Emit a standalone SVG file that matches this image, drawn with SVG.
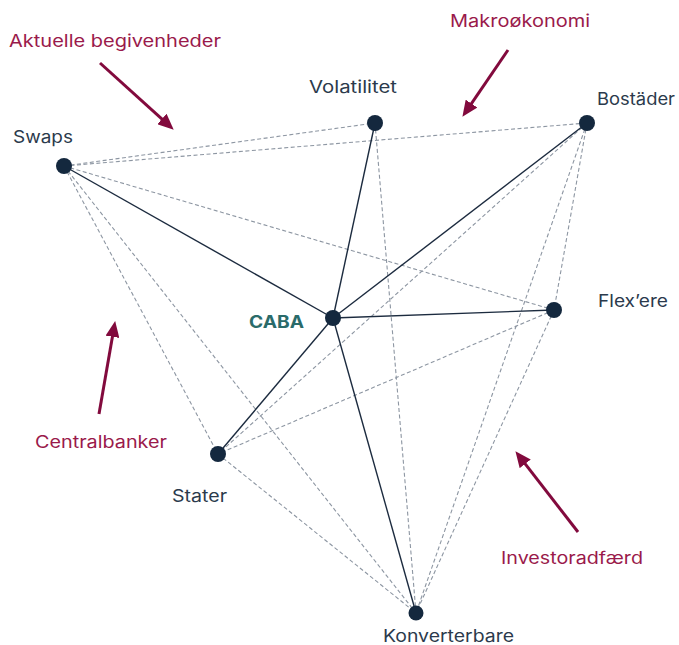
<svg xmlns="http://www.w3.org/2000/svg" width="679" height="645" viewBox="0 0 679 645">
<style>
.lbl{font-family:Inter,"Open Sans","Liberation Sans",sans-serif;font-size:17px;fill:#2b3a4c}
.drv{font-family:Inter,"Open Sans","Liberation Sans",sans-serif;font-size:17px;fill:#9a1a4b}
.caba{font-family:Inter,"Open Sans","Liberation Sans",sans-serif;font-size:17px;font-weight:bold;fill:#2a6b6a}
.solid{stroke:#1c2b3f;stroke-width:1.4;fill:none}
.dash{stroke:#8d96a2;stroke-width:1.1;stroke-dasharray:4 2.5;fill:none}
.arr{stroke:#820a3d;stroke-width:3;fill:none;marker-end:url(#ah)}
.node{fill:#14283e}
</style>
<defs>
<marker id="ah" viewBox="0 0 16 14" refX="1" refY="7" markerWidth="16" markerHeight="14" markerUnits="userSpaceOnUse" orient="auto">
<path d="M0,0 L16,7 L0,14 z" fill="#820a3d"/>
</marker>
</defs>
<rect width="679" height="645" fill="#ffffff"/>
<g id="connectors">
<line class="dash" x1="64" y1="166" x2="375" y2="123"/>
<line class="dash" x1="64" y1="166" x2="587" y2="123"/>
<line class="dash" x1="64" y1="166" x2="554" y2="310"/>
<line class="dash" x1="64" y1="166" x2="218" y2="454"/>
<line class="dash" x1="64" y1="166" x2="416" y2="613"/>
<line class="dash" x1="375" y1="123" x2="416" y2="613"/>
<line class="dash" x1="587" y1="123" x2="218" y2="454"/>
<line class="dash" x1="587" y1="123" x2="554" y2="310"/>
<line class="dash" x1="587" y1="123" x2="416" y2="613"/>
<line class="dash" x1="554" y1="310" x2="218" y2="454"/>
<line class="dash" x1="554" y1="310" x2="416" y2="613"/>
<line class="dash" x1="218" y1="454" x2="416" y2="613"/>
<line class="solid" x1="333" y1="318" x2="64" y2="166"/>
<line class="solid" x1="333" y1="318" x2="375" y2="123"/>
<line class="solid" x1="333" y1="318" x2="587" y2="123"/>
<line class="solid" x1="333" y1="318" x2="554" y2="310"/>
<line class="solid" x1="333" y1="318" x2="218" y2="454"/>
<line class="solid" x1="333" y1="318" x2="416" y2="613"/>
</g>
<g id="drivers">
<g id="aktuelle"><line class="arr" x1="100" y1="63" x2="162.6" y2="119.6"/><text class="drv" x="9" y="47" textLength="212" lengthAdjust="spacingAndGlyphs">Aktuelle begivenheder</text></g>
<g id="makro"><line class="arr" x1="508" y1="50" x2="470.9" y2="104.4"/><text class="drv" x="450" y="27" textLength="140" lengthAdjust="spacingAndGlyphs">Makroøkonomi</text></g>
<g id="central"><line class="arr" x1="99" y1="414" x2="112.6" y2="335.8"/><text class="drv" x="35" y="448" textLength="132" lengthAdjust="spacingAndGlyphs">Centralbanker</text></g>
<g id="investor"><line class="arr" x1="578" y1="532" x2="524.6" y2="463.1"/><text class="drv" x="501" y="564" textLength="142" lengthAdjust="spacingAndGlyphs">Investoradfærd</text></g>
</g>
<g id="swaps"><circle class="node" cx="64" cy="166" r="8"/><text class="lbl" x="13" y="143" textLength="60" lengthAdjust="spacingAndGlyphs">Swaps</text></g>
<g id="volatilitet"><circle class="node" cx="375" cy="123" r="8"/><text class="lbl" x="309" y="93" textLength="88" lengthAdjust="spacingAndGlyphs">Volatilitet</text></g>
<g id="bostader"><circle class="node" cx="587" cy="123" r="8"/><text class="lbl" x="597" y="105" textLength="78" lengthAdjust="spacingAndGlyphs">Bostäder</text></g>
<g id="caba"><circle class="node" cx="333" cy="318" r="8"/><text class="caba" x="249" y="328" textLength="55" lengthAdjust="spacingAndGlyphs">CABA</text></g>
<g id="flexere"><circle class="node" cx="554" cy="310" r="8"/><text class="lbl" x="598" y="307" textLength="70" lengthAdjust="spacingAndGlyphs">Flex’ere</text></g>
<g id="stater"><circle class="node" cx="218" cy="454" r="8"/><text class="lbl" x="172" y="502" textLength="55" lengthAdjust="spacingAndGlyphs">Stater</text></g>
<g id="konverterbare"><circle class="node" cx="416" cy="613" r="7.5"/><text class="lbl" x="383" y="642" textLength="131" lengthAdjust="spacingAndGlyphs">Konverterbare</text></g>
</svg>
